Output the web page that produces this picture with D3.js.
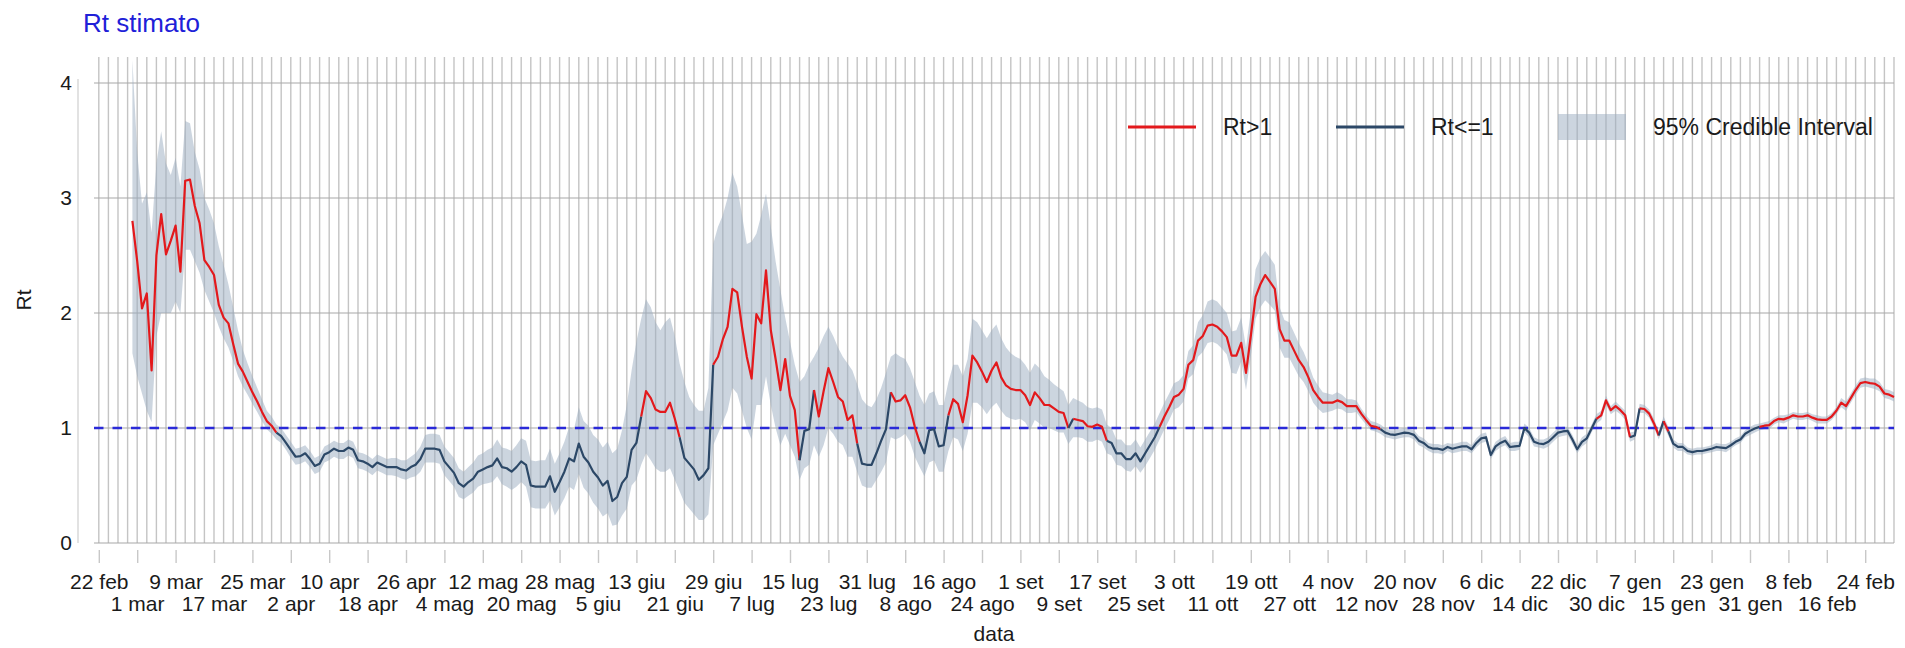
<!DOCTYPE html>
<html>
<head>
<meta charset="utf-8">
<script src="https://cdn.jsdelivr.net/npm/d3@7"></script>
<style>
  body { margin: 0; background: #fff; }
  text { font-family: "Liberation Sans", Arial, sans-serif; }
</style>
</head>
<body>
<svg id="chart" width="1905" height="648"></svg>
<script>
// daily Rt estimate, first value is 29 feb 2020
var firstDay = new Date(Date.UTC(2020, 1, 29));

var rtValues = [
  2.80, 2.45, 2.04, 2.17, 1.50, 2.50, 2.86, 2.51, 2.63, 2.76,
  2.36, 3.15, 3.16, 2.93, 2.78, 2.46, 2.40, 2.33, 2.07, 1.96,
  1.91, 1.73, 1.56, 1.49, 1.40, 1.31, 1.23, 1.14, 1.06, 1.02,
  0.96, 0.93, 0.87, 0.81, 0.75, 0.755, 0.78, 0.73, 0.67, 0.69,
  0.77, 0.79, 0.82, 0.80, 0.80, 0.83, 0.81, 0.72, 0.71, 0.69,
  0.66, 0.70, 0.68, 0.66, 0.66, 0.66, 0.64, 0.63, 0.66, 0.68,
  0.73, 0.82, 0.82, 0.82, 0.81, 0.71, 0.66, 0.61, 0.52, 0.49,
  0.53, 0.56, 0.62, 0.64, 0.66, 0.675, 0.735, 0.66, 0.65, 0.62,
  0.66, 0.71, 0.68, 0.50, 0.49, 0.49, 0.49, 0.58, 0.445, 0.53,
  0.62, 0.735, 0.71, 0.865, 0.75, 0.70, 0.62, 0.57, 0.50, 0.54,
  0.365, 0.40, 0.52, 0.575, 0.81, 0.87, 1.10, 1.32, 1.26, 1.16,
  1.14, 1.14, 1.22, 1.08, 0.92, 0.74, 0.69, 0.64, 0.55, 0.59,
  0.65, 1.55, 1.62, 1.77, 1.88, 2.21, 2.18, 1.88, 1.62, 1.43,
  1.99, 1.91, 2.37, 1.85, 1.60, 1.33, 1.60, 1.28, 1.155, 0.72,
  0.975, 0.99, 1.33, 1.10, 1.32, 1.52, 1.40, 1.27, 1.23, 1.07,
  1.11, 0.865, 0.69, 0.68, 0.68, 0.78, 0.89, 0.99, 1.31, 1.23,
  1.24, 1.285, 1.18, 1.01, 0.88, 0.78, 0.98, 0.99, 0.84, 0.85,
  1.11, 1.25, 1.21, 1.05, 1.285, 1.63, 1.57, 1.49, 1.40, 1.50,
  1.57, 1.44, 1.37, 1.34, 1.33, 1.33, 1.285, 1.20, 1.31, 1.26,
  1.20, 1.20, 1.17, 1.14, 1.13, 1.00, 1.08, 1.07, 1.06, 1.015,
  1.01, 1.03, 1.01, 0.89, 0.87, 0.78, 0.78, 0.73, 0.73, 0.78,
  0.71, 0.78, 0.85, 0.92, 1.01, 1.10, 1.18, 1.27, 1.29, 1.34,
  1.55, 1.59, 1.76, 1.80, 1.89, 1.90, 1.88, 1.84, 1.79, 1.63,
  1.63, 1.74, 1.48, 1.80, 2.14, 2.25, 2.33, 2.27, 2.21, 1.86,
  1.76, 1.76, 1.675, 1.59, 1.53, 1.44, 1.33, 1.27, 1.22, 1.22,
  1.22, 1.24, 1.225, 1.19, 1.19, 1.19, 1.125, 1.07, 1.02, 1.01,
  0.99, 0.96, 0.945, 0.94, 0.95, 0.96, 0.955, 0.94, 0.89, 0.87,
  0.835, 0.82, 0.82, 0.81, 0.835, 0.82, 0.83, 0.84, 0.84, 0.815,
  0.87, 0.91, 0.92, 0.765, 0.84, 0.87, 0.89, 0.835, 0.84, 0.845,
  1.00, 0.96, 0.88, 0.865, 0.86, 0.88, 0.92, 0.96, 0.97, 0.975,
  0.90, 0.815, 0.88, 0.91, 0.995, 1.08, 1.11, 1.24, 1.155, 1.19,
  1.155, 1.11, 0.92, 0.935, 1.17, 1.165, 1.125, 1.04, 0.935, 1.06,
  0.97, 0.865, 0.835, 0.835, 0.80, 0.79, 0.80, 0.80, 0.81, 0.82,
  0.835, 0.83, 0.825, 0.85, 0.88, 0.90, 0.95, 0.975, 0.995, 1.01,
  1.02, 1.025, 1.06, 1.08, 1.075, 1.09, 1.11, 1.10, 1.10, 1.11,
  1.09, 1.075, 1.07, 1.07, 1.10, 1.15, 1.22, 1.19, 1.26, 1.33,
  1.39, 1.40, 1.39, 1.385, 1.36, 1.30, 1.29, 1.27
];

var ciLow = [
  1.65, 1.45, 1.30, 1.15, 1.05, 1.80, 2.00, 2.00, 2.00, 2.10,
  2.00, 2.55, 2.55, 2.45, 2.35, 2.20, 2.10, 2.00, 1.88, 1.78,
  1.70, 1.58, 1.45, 1.36, 1.29, 1.21, 1.14, 1.06, 0.99, 0.95,
  0.90, 0.87, 0.81, 0.74, 0.68, 0.69, 0.71, 0.66, 0.60, 0.62,
  0.70, 0.72, 0.75, 0.73, 0.73, 0.76, 0.74, 0.65, 0.64, 0.62,
  0.59, 0.63, 0.61, 0.59, 0.59, 0.58, 0.56, 0.55, 0.57, 0.58,
  0.62, 0.70, 0.70, 0.70, 0.69, 0.59, 0.54, 0.49, 0.40, 0.38,
  0.41, 0.44, 0.49, 0.51, 0.52, 0.53, 0.58, 0.51, 0.49, 0.46,
  0.49, 0.53, 0.49, 0.31, 0.30, 0.30, 0.30, 0.37, 0.24, 0.31,
  0.39, 0.49, 0.46, 0.60, 0.48, 0.43, 0.35, 0.30, 0.23, 0.26,
  0.15, 0.16, 0.24, 0.30, 0.50, 0.55, 0.68, 0.78, 0.72, 0.65,
  0.62, 0.62, 0.65, 0.55, 0.45, 0.35, 0.30, 0.25, 0.20, 0.20,
  0.25, 0.85, 0.95, 1.05, 1.15, 1.35, 1.30, 1.15, 1.00, 0.90,
  1.20, 1.20, 1.45, 1.20, 1.00, 0.85, 0.95, 0.85, 0.75, 0.55,
  0.65, 0.68, 0.85, 0.75, 0.85, 1.00, 0.95, 0.88, 0.85, 0.75,
  0.75, 0.62, 0.50, 0.48, 0.48, 0.55, 0.62, 0.70, 0.92, 0.90,
  0.92, 0.95, 0.88, 0.75, 0.66, 0.58, 0.70, 0.72, 0.62, 0.62,
  0.80, 0.92, 0.90, 0.80, 0.95, 1.22, 1.22, 1.18, 1.12, 1.18,
  1.22, 1.15, 1.10, 1.08, 1.07, 1.08, 1.05, 0.98, 1.07, 1.04,
  1.00, 1.00, 0.98, 0.96, 0.96, 0.86, 0.92, 0.92, 0.91, 0.88,
  0.88, 0.90, 0.88, 0.78, 0.76, 0.68, 0.67, 0.63, 0.62, 0.67,
  0.61, 0.67, 0.74, 0.81, 0.90, 0.99, 1.07, 1.16, 1.18, 1.23,
  1.43, 1.47, 1.62, 1.66, 1.74, 1.75, 1.73, 1.69, 1.64, 1.48,
  1.47, 1.58, 1.33, 1.62, 1.95, 2.05, 2.11, 2.07, 2.02, 1.70,
  1.61, 1.61, 1.53, 1.45, 1.40, 1.32, 1.22, 1.17, 1.13, 1.14,
  1.15, 1.17, 1.16, 1.13, 1.13, 1.14, 1.08, 1.03, 0.98, 0.97,
  0.95, 0.92, 0.91, 0.90, 0.91, 0.92, 0.92, 0.90, 0.85, 0.83,
  0.80, 0.78, 0.78, 0.77, 0.80, 0.78, 0.79, 0.80, 0.80, 0.78,
  0.83, 0.87, 0.88, 0.73, 0.80, 0.83, 0.85, 0.80, 0.80, 0.81,
  0.96, 0.92, 0.84, 0.83, 0.82, 0.84, 0.88, 0.92, 0.93, 0.94,
  0.86, 0.78, 0.84, 0.87, 0.96, 1.04, 1.07, 1.20, 1.12, 1.15,
  1.12, 1.07, 0.88, 0.90, 1.13, 1.13, 1.09, 1.00, 0.90, 1.02,
  0.93, 0.83, 0.80, 0.80, 0.77, 0.76, 0.77, 0.77, 0.78, 0.79,
  0.80, 0.80, 0.79, 0.82, 0.85, 0.87, 0.92, 0.94, 0.96, 0.98,
  0.99, 0.99, 1.03, 1.05, 1.04, 1.06, 1.08, 1.07, 1.07, 1.08,
  1.06, 1.04, 1.04, 1.04, 1.07, 1.12, 1.18, 1.15, 1.22, 1.29,
  1.35, 1.36, 1.35, 1.34, 1.32, 1.26, 1.25, 1.23
];

var ciHigh = [
  4.20, 3.40, 2.95, 3.05, 2.70, 3.30, 3.58, 3.30, 3.20, 3.35,
  3.10, 3.67, 3.65, 3.40, 3.25, 3.00, 2.90, 2.78, 2.58, 2.42,
  2.25, 2.05, 1.85, 1.68, 1.56, 1.45, 1.35, 1.25, 1.15, 1.10,
  1.03, 1.00, 0.94, 0.88, 0.82, 0.83, 0.85, 0.80, 0.74, 0.76,
  0.84, 0.86, 0.89, 0.87, 0.87, 0.90, 0.88, 0.79, 0.78, 0.76,
  0.73, 0.77, 0.75, 0.73, 0.74, 0.74, 0.72, 0.72, 0.75, 0.78,
  0.84, 0.94, 0.95, 0.95, 0.94, 0.84, 0.79, 0.74, 0.65, 0.62,
  0.66, 0.70, 0.76, 0.78, 0.81, 0.83, 0.90, 0.83, 0.82, 0.80,
  0.85, 0.91, 0.89, 0.72, 0.71, 0.72, 0.72, 0.82, 0.69, 0.78,
  0.88, 1.01, 0.99, 1.18, 1.06, 1.02, 0.94, 0.90, 0.83, 0.88,
  0.78, 0.82, 0.98, 1.20, 1.50, 1.75, 1.95, 2.12, 2.05, 1.92,
  1.85, 1.92, 1.96, 1.80, 1.56, 1.40, 1.27, 1.20, 1.15, 1.15,
  1.35, 2.60, 2.75, 2.85, 3.00, 3.22, 3.10, 2.85, 2.60, 2.62,
  2.69, 2.85, 3.04, 2.75, 2.45, 2.20, 1.96, 1.75, 1.55, 1.40,
  1.45, 1.55, 1.62, 1.70, 1.80, 1.88, 1.80, 1.70, 1.62, 1.56,
  1.50, 1.38, 1.25, 1.20, 1.18, 1.25, 1.35, 1.48, 1.62, 1.65,
  1.62, 1.60, 1.52, 1.40, 1.28, 1.20, 1.30, 1.32, 1.20, 1.20,
  1.40, 1.55, 1.55, 1.45, 1.60, 1.95, 1.92, 1.85, 1.78, 1.85,
  1.90, 1.78, 1.70, 1.65, 1.62, 1.60, 1.55, 1.48, 1.56, 1.52,
  1.45, 1.42, 1.38, 1.35, 1.32, 1.20, 1.26, 1.24, 1.22, 1.18,
  1.17, 1.18, 1.16, 1.03, 1.00, 0.90, 0.90, 0.85, 0.85, 0.90,
  0.83, 0.90, 0.97, 1.04, 1.13, 1.22, 1.30, 1.39, 1.41, 1.46,
  1.67, 1.72, 1.92, 1.98, 2.10, 2.12, 2.10, 2.05, 2.00, 1.84,
  1.85, 1.96, 1.70, 2.02, 2.38, 2.48, 2.54, 2.48, 2.42, 2.05,
  1.94, 1.92, 1.83, 1.74, 1.66, 1.56, 1.44, 1.37, 1.31, 1.30,
  1.29, 1.31, 1.29, 1.25, 1.25, 1.24, 1.17, 1.11, 1.06, 1.05,
  1.03, 1.00, 0.98, 0.98, 0.99, 1.00, 0.99, 0.98, 0.93, 0.91,
  0.87, 0.86, 0.86, 0.85, 0.87, 0.86, 0.87, 0.88, 0.88, 0.85,
  0.91, 0.95, 0.96, 0.80, 0.88, 0.91, 0.93, 0.87, 0.88, 0.88,
  1.04, 1.00, 0.92, 0.90, 0.90, 0.92, 0.96, 1.00, 1.01, 1.01,
  0.94, 0.85, 0.92, 0.95, 1.03, 1.12, 1.15, 1.28, 1.19, 1.23,
  1.19, 1.15, 0.96, 0.97, 1.21, 1.20, 1.16, 1.08, 0.97, 1.10,
  1.01, 0.90, 0.87, 0.87, 0.83, 0.82, 0.83, 0.83, 0.84, 0.85,
  0.87, 0.86, 0.86, 0.88, 0.91, 0.93, 0.98, 1.01, 1.03, 1.04,
  1.05, 1.06, 1.09, 1.11, 1.11, 1.12, 1.14, 1.13, 1.13, 1.14,
  1.12, 1.11, 1.10, 1.10, 1.13, 1.18, 1.26, 1.23, 1.30, 1.37,
  1.43, 1.44, 1.43, 1.43, 1.40, 1.34, 1.33, 1.31
];

// x axis ticks: one every 8 days from 22 feb 2020
var tickStart = new Date(Date.UTC(2020, 1, 22));
var tickLabels = [
  "22 feb", "1 mar", "9 mar", "17 mar", "25 mar", "2 apr", "10 apr", "18 apr",
  "26 apr", "4 mag", "12 mag", "20 mag", "28 mag", "5 giu", "13 giu", "21 giu",
  "29 giu", "7 lug", "15 lug", "23 lug", "31 lug", "8 ago", "16 ago", "24 ago",
  "1 set", "9 set", "17 set", "25 set", "3 ott", "11 ott", "19 ott", "27 ott",
  "4 nov", "12 nov", "20 nov", "28 nov", "6 dic", "14 dic", "22 dic", "30 dic",
  "7 gen", "15 gen", "23 gen", "31 gen", "8 feb", "16 feb", "24 feb"
];
var yTicks = [0, 1, 2, 3, 4];
var legendLabels = ["Rt>1", "Rt<=1", "95% Credible Interval"];

(function() {
  var red = "#e3191c", navy = "#2c4867", band = "#9aabc0", dashBlue = "#2a2ad8";

  var svg = d3.select("#chart");
  var plotLeft = 94, plotRight = 1894, plotTop = 57, plotBottom = 543;

  var x = d3.scaleUtc()
    .domain([d3.utcDay.offset(tickStart, -1), d3.utcDay.offset(tickStart, 374)])
    .range([plotLeft, plotRight]);
  var y = d3.scaleLinear().domain([0, 4.226]).range([plotBottom, plotTop]);

  var n = Math.min(rtValues.length, ciLow.length, ciHigh.length);
  var data = d3.range(n).map(function(i) {
    return { date: d3.utcDay.offset(firstDay, i), v: rtValues[i], lo: ciLow[i], hi: ciHigh[i] };
  });

  //title
  svg.append("text")
    .attr("x", 83).attr("y", 32)
    .style("font-size", "26px").style("fill", "#2020d8")
    .text("Rt stimato");

  //grid: vertical every 2 days, horizontal on y ticks
  var gridDays = d3.range(0, 375, 2).map(function(k) { return d3.utcDay.offset(tickStart, k); });
  svg.append("g").selectAll("line").data(gridDays).enter().append("line")
    .attr("x1", function(d) { return x(d); }).attr("x2", function(d) { return x(d); })
    .attr("y1", plotTop).attr("y2", plotBottom)
    .style("stroke", "#c4c4c4").style("stroke-width", 1.4);

  svg.append("g").selectAll("line").data(yTicks).enter().append("line")
    .attr("x1", plotLeft).attr("x2", plotRight)
    .attr("y1", function(d) { return y(d); }).attr("y2", function(d) { return y(d); })
    .style("stroke", "#a8a8a8").style("stroke-width", 1.1);

  //credible interval
  svg.append("path").datum(data)
    .attr("d", d3.area()
      .x(function(d) { return x(d.date); })
      .y0(function(d) { return y(d.lo); })
      .y1(function(d) { return y(d.hi); }))
    .style("fill", band).style("opacity", 0.5);

  //reference line at 1
  svg.append("line")
    .attr("x1", plotLeft).attr("x2", plotRight).attr("y1", y(1)).attr("y2", y(1))
    .style("stroke", dashBlue).style("stroke-width", 2.5)
    .style("stroke-dasharray", "9.5,9");

  //Rt line, each segment coloured by its starting value
  var runs = [], cur = null;
  for (var i = 0; i < data.length - 1; i++) {
    var up = data[i].v > 1;
    if (!cur || cur.up !== up) { cur = { up: up, pts: [data[i]] }; runs.push(cur); }
    cur.pts.push(data[i + 1]);
  }
  var line = d3.line().x(function(d) { return x(d.date); }).y(function(d) { return y(d.v); });
  svg.append("g").selectAll("path").data(runs).enter().append("path")
    .attr("d", function(r) { return line(r.pts); })
    .style("fill", "none")
    .style("stroke", function(r) { return r.up ? red : navy; })
    .style("stroke-width", 2.2)
    .style("stroke-linejoin", "round");

  //x axis
  var tickDates = tickLabels.map(function(t, i) { return d3.utcDay.offset(tickStart, 8 * i); });
  var xAxis = svg.append("g").attr("transform", "translate(0,550)")
    .call(d3.axisBottom(x).tickValues(tickDates).tickSize(13)
      .tickFormat(function(d, i) { return tickLabels[i]; }));
  xAxis.select(".domain").remove();
  xAxis.selectAll(".tick line").style("stroke", "#c8c8c8").style("stroke-width", 1.4);
  xAxis.selectAll(".tick text")
    .attr("y", function(d, i) { return i % 2 ? 61 : 39; })
    .attr("dy", 0)
    .style("font-size", "21px").style("fill", "#1a1a1a");

  //y axis
  var yAxis = svg.append("g").attr("transform", "translate(78,0)")
    .call(d3.axisLeft(y).tickValues(yTicks).tickSize(0).tickPadding(6)
      .tickFormat(d3.format("d")));
  yAxis.select(".domain").remove();
  yAxis.selectAll(".tick text").style("font-size", "21px").style("fill", "#1a1a1a");
  svg.append("line")
    .attr("x1", 78).attr("x2", 78).attr("y1", y(4) - 4).attr("y2", plotBottom)
    .style("stroke", "#cfcfcf").style("stroke-width", 1.2);

  //axis titles
  svg.append("text")
    .attr("x", (plotLeft + plotRight) / 2).attr("y", 641)
    .attr("text-anchor", "middle")
    .style("font-size", "21px").style("fill", "#1a1a1a")
    .text("data");
  svg.append("text")
    .attr("transform", "translate(31," + ((plotTop + plotBottom) / 2) + ") rotate(-90)")
    .attr("text-anchor", "middle")
    .style("font-size", "21px").style("fill", "#1a1a1a")
    .text("Rt");

  //legend
  var legendX = [1128, 1336, 1558];
  var lg = svg.append("g").attr("class", "legend");
  lg.append("line").attr("x1", legendX[0]).attr("x2", legendX[0] + 68).attr("y1", 127).attr("y2", 127)
    .style("stroke", red).style("stroke-width", 3);
  lg.append("line").attr("x1", legendX[1]).attr("x2", legendX[1] + 68).attr("y1", 127).attr("y2", 127)
    .style("stroke", navy).style("stroke-width", 3);
  lg.append("rect").attr("x", legendX[2]).attr("y", 114).attr("width", 68).attr("height", 26)
    .style("fill", band).style("opacity", 0.5);
  lg.selectAll("text").data(legendLabels).enter().append("text")
    .attr("x", function(d, i) { return legendX[i] + 95; })
    .attr("y", 127).attr("dy", "0.35em")
    .style("font-size", "23px").style("fill", "#1a1a1a")
    .text(function(d) { return d; });
}());
</script>
</body>
</html>
